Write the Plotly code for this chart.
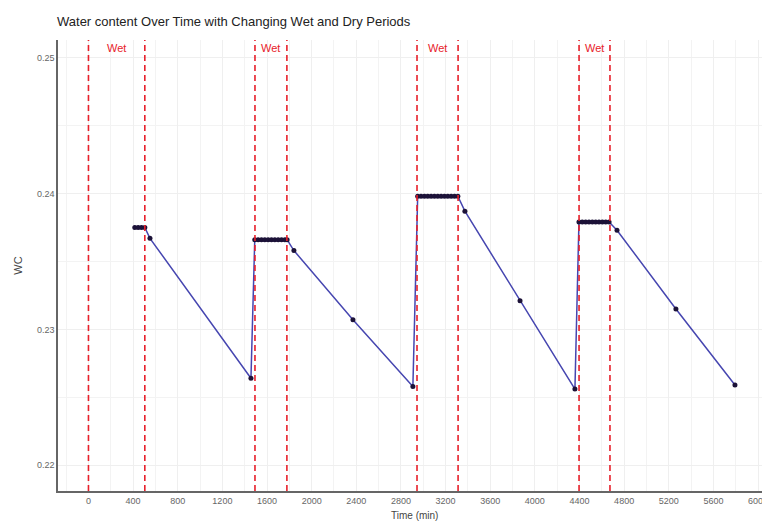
import plotly.graph_objects as go

# ---- data ----
time_min = [415, 445, 475, 505,
            551, 1456,
            1490, 1520, 1550, 1580, 1610, 1640, 1670, 1700, 1730, 1760, 1780,
            1841, 2370, 2907,
            2950, 2980, 3010, 3040, 3070, 3100, 3130, 3160, 3190, 3220, 3250, 3280, 3310,
            3373, 3867, 4359,
            4395, 4425, 4455, 4485, 4515, 4545, 4575, 4605, 4635, 4665,
            4736, 5264, 5793]
wc = [0.2375, 0.2375, 0.2375, 0.2375,
      0.2367, 0.2264,
      0.2366, 0.2366, 0.2366, 0.2366, 0.2366, 0.2366, 0.2366, 0.2366, 0.2366, 0.2366, 0.2366,
      0.2358, 0.2307, 0.2258,
      0.2398, 0.2398, 0.2398, 0.2398, 0.2398, 0.2398, 0.2398, 0.2398, 0.2398, 0.2398, 0.2398, 0.2398, 0.2398,
      0.2387, 0.2321, 0.2256,
      0.2379, 0.2379, 0.2379, 0.2379, 0.2379, 0.2379, 0.2379, 0.2379, 0.2379, 0.2379,
      0.2373, 0.2315, 0.2259]
wet_starts = [0, 1492, 2944, 4396]
wet_ends = [505, 1778, 3312, 4673]
wet_label = "Wet"
x_ticks = [0, 400, 800, 1200, 1600, 2000, 2400, 2800, 3200, 3600, 4000, 4400, 4800, 5200, 5600, 6000]
y_ticks = [0.22, 0.23, 0.24, 0.25]

# page body has an 8px margin: size the figure so it fills the 770x521 window
W, H = 762, 513
ML, MT, MB, MR = 50, 32, 30, 0

fig = go.Figure()
fig.add_trace(go.Scatter(
    x=time_min, y=wc, mode="lines+markers",
    line=dict(color="#4646b0", width=1.5),
    marker=dict(color="#1c1238", size=5),
    showlegend=False,
))

shapes = []
annotations = []
for s, e in zip(wet_starts, wet_ends):
    for xv in (s, e):
        shapes.append(dict(type="line", xref="x", yref="paper", x0=xv, x1=xv, y0=0, y1=1,
                           line=dict(color="#e8202a", width=1.6, dash="6px,4px")))
    annotations.append(dict(x=(s + e) / 2, y=1.0, yanchor="top", xref="x", yref="paper",
                            text=wet_label, showarrow=False,
                            font=dict(color="#e8202a", size=11, family="Liberation Sans, Arial")))

plot_h = H - MT - MB
annotations.append(dict(x=0.5, y=-24 / plot_h, xref="paper", yref="paper", yanchor="middle",
                        text="Time (min)", showarrow=False,
                        font=dict(size=10, color="#444", family="Liberation Sans, Arial")))

fig.update_layout(
    width=W, height=H,
    margin=dict(l=ML, r=MR, t=MT, b=MB, pad=0),
    paper_bgcolor="white", plot_bgcolor="white",
    font=dict(family="Liberation Sans, Arial", size=9, color="#555"),
    title=dict(text="Water content Over Time with Changing Wet and Dry Periods",
               x=49 / W, xanchor="left", y=1 - 13 / H, yanchor="middle",
               font=dict(size=13, color="#222")),
    shapes=shapes, annotations=annotations,
    xaxis=dict(range=[-273, 6107], tickvals=x_ticks, ticktext=[str(v) for v in x_ticks],
               automargin=False,
               showgrid=True, gridcolor="#efefef", gridwidth=1,
               minor=dict(dtick=200, showgrid=True, gridcolor="#f3f3f3", tick0=0),
               showline=True, linecolor="#666", linewidth=1.5, zeroline=False,
               tickfont=dict(size=9, color="#666")),
    yaxis=dict(range=[0.2181, 0.2513], tickvals=y_ticks, ticktext=["0.22", "0.23", "0.24", "0.25"],
               automargin=False,
               showgrid=True, gridcolor="#efefef", gridwidth=1,
               minor=dict(dtick=0.005, showgrid=True, gridcolor="#f3f3f3", tick0=0.22),
               showline=True, linecolor="#666", linewidth=1.5, zeroline=False,
               title=dict(text="WC", font=dict(size=11, color="#444"), standoff=12),
               tickfont=dict(size=9, color="#666")),
)

fig.write_html("out.html")
